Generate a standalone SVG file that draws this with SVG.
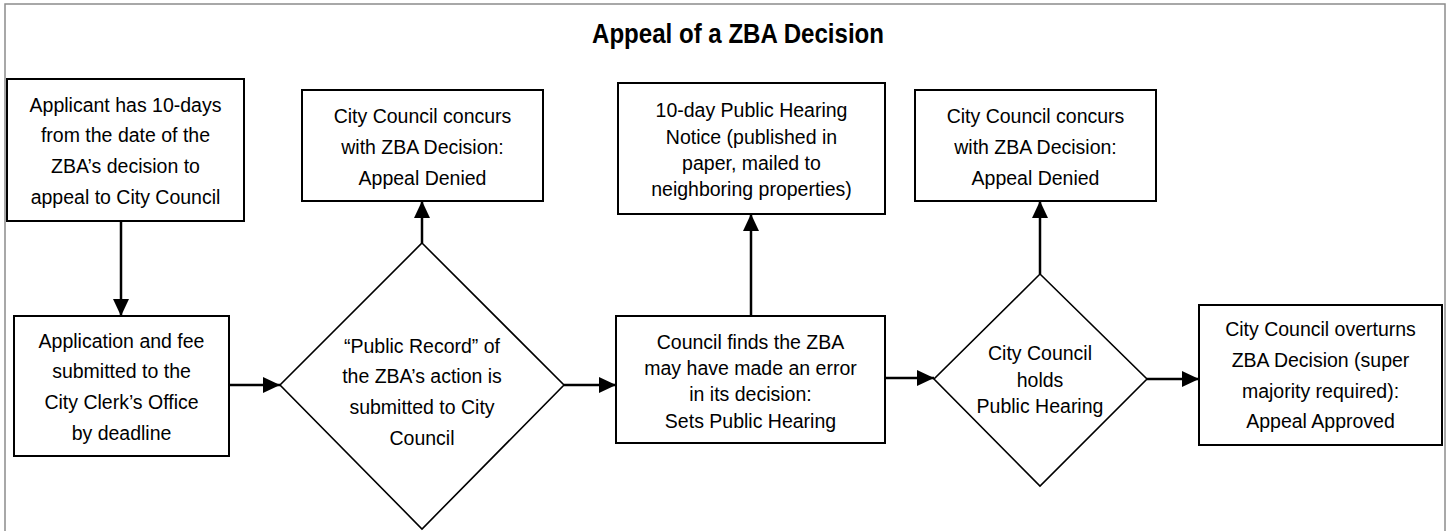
<svg xmlns="http://www.w3.org/2000/svg" width="1452" height="531" viewBox="0 0 1452 531">
<defs>
<style>
.frame{fill:none;stroke:#8c8c8c;stroke-width:1.5}
.box{fill:#fff;stroke:#000;stroke-width:2}
.dia{fill:#fff;stroke:#000;stroke-width:1.6}
.t{font-family:"Liberation Sans",Arial,sans-serif;font-size:19.5px;fill:#000;text-anchor:middle}
.title{font-family:"Liberation Sans",Arial,sans-serif;font-size:27px;font-weight:bold;fill:#000}
.c{fill:none;stroke:#000;stroke-width:2.5;marker-end:url(#ah)}
</style>
<marker id="ah" markerUnits="userSpaceOnUse" markerWidth="17" markerHeight="16" refX="17" refY="8" orient="auto">
<path d="M0,0 L17,8 L0,16 Z" fill="#000"/>
</marker>
</defs>
<rect width="1452" height="531" fill="#fff"/>
<rect class="frame" x="5" y="4" width="1440" height="540"/>
<text class="title" x="592" y="43" textLength="292" lengthAdjust="spacingAndGlyphs">Appeal of a ZBA Decision</text>

<g id="connectors">
<line class="c" x1="121" y1="221" x2="121" y2="316"/>
<line class="c" x1="229" y1="385" x2="280" y2="385"/>
<line class="c" x1="422" y1="243" x2="422" y2="201"/>
<line class="c" x1="564" y1="385" x2="616" y2="385"/>
<line class="c" x1="751" y1="316" x2="751" y2="214"/>
<line class="c" x1="885" y1="378" x2="934" y2="378"/>
<line class="c" x1="1040" y1="274" x2="1040" y2="201"/>
<line class="c" x1="1147" y1="379" x2="1199" y2="379"/>
</g>

<g id="applicant">
<rect class="box" x="7" y="79" width="237" height="142"/>
<text class="t" x="125.5" y="112">Applicant has 10-days</text>
<text class="t" x="125.5" y="142">from the date of the</text>
<text class="t" x="125.5" y="173">ZBA’s decision to</text>
<text class="t" x="125.5" y="204">appeal to City Council</text>
</g>

<g id="application">
<rect class="box" x="14" y="316" width="215" height="140"/>
<text class="t" x="121.5" y="348">Application and fee</text>
<text class="t" x="121.5" y="378">submitted to the</text>
<text class="t" x="121.5" y="409">City Clerk’s Office</text>
<text class="t" x="121.5" y="440">by deadline</text>
</g>

<g id="public-record">
<polygon class="dia" points="422,243 564,385 422,529 280,385"/>
<text class="t" x="422" y="353">“Public Record” of</text>
<text class="t" x="422" y="383">the ZBA’s action is</text>
<text class="t" x="422" y="414">submitted to City</text>
<text class="t" x="422" y="445">Council</text>
</g>

<g id="denied-1">
<rect class="box" x="302" y="90" width="241" height="111"/>
<text class="t" x="422.5" y="123">City Council concurs</text>
<text class="t" x="422.5" y="154">with ZBA Decision:</text>
<text class="t" x="422.5" y="185">Appeal Denied</text>
</g>

<g id="notice">
<rect class="box" x="618" y="83" width="267" height="131"/>
<text class="t" x="751.5" y="117">10-day Public Hearing</text>
<text class="t" x="751.5" y="144">Notice (published in</text>
<text class="t" x="751.5" y="170">paper, mailed to</text>
<text class="t" x="751.5" y="196">neighboring properties)</text>
</g>

<g id="sets-hearing">
<rect class="box" x="616" y="316" width="269" height="127"/>
<text class="t" x="750.5" y="349">Council finds the ZBA</text>
<text class="t" x="750.5" y="375">may have made an error</text>
<text class="t" x="750.5" y="401">in its decision:</text>
<text class="t" x="750.5" y="428">Sets Public Hearing</text>
</g>

<g id="holds-hearing">
<polygon class="dia" points="1040,274 1147,379 1040,486 934,379"/>
<text class="t" x="1040" y="360">City Council</text>
<text class="t" x="1040" y="387">holds</text>
<text class="t" x="1040" y="413">Public Hearing</text>
</g>

<g id="denied-2">
<rect class="box" x="915" y="90" width="241" height="111"/>
<text class="t" x="1035.5" y="123">City Council concurs</text>
<text class="t" x="1035.5" y="154">with ZBA Decision:</text>
<text class="t" x="1035.5" y="185">Appeal Denied</text>
</g>

<g id="approved">
<rect class="box" x="1199" y="305" width="243" height="140"/>
<text class="t" x="1320.5" y="336">City Council overturns</text>
<text class="t" x="1320.5" y="367">ZBA Decision (super</text>
<text class="t" x="1320.5" y="398">majority required):</text>
<text class="t" x="1320.5" y="428">Appeal Approved</text>
</g>
</svg>
